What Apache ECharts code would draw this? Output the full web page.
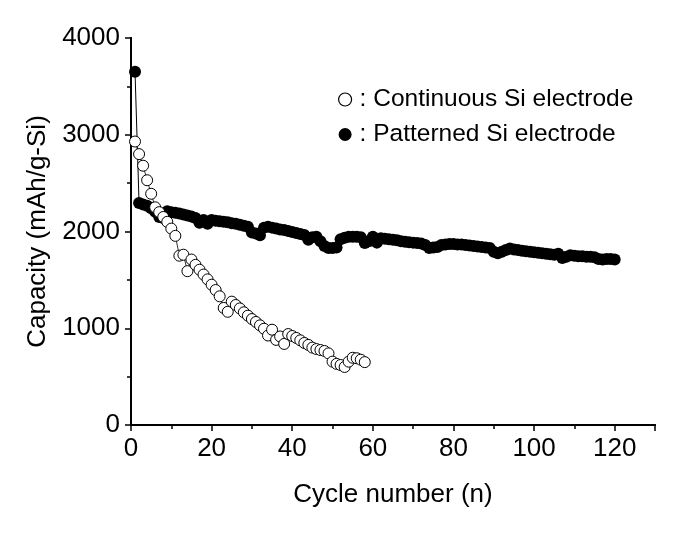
<!DOCTYPE html>
<html>
<head>
<meta charset="utf-8">
<script src="https://cdn.jsdelivr.net/npm/echarts@6/dist/echarts.min.js"></script>
<style>html,body{margin:0;padding:0;background:#fff}#c{width:685px;height:533px}</style>
</head>
<body>
<div id="c"></div>
<script>
// Continuous Si electrode (open circles), cycles 1..58
const continuousCycles = [1,2,3,4,5,6,7,8,9,10,11,12,13,14,15,16,17,18,19,20,21,22,23,24,25,26,27,28,29,30,31,32,33,34,35,36,37,38,39,40,41,42,43,44,45,46,47,48,49,50,51,52,53,54,55,56,57,58];
const continuousCap = [2930,2800,2680,2530,2390,2250,2200,2150,2100,2030,1955,1750,1760,1590,1710,1655,1605,1555,1505,1450,1395,1330,1210,1170,1275,1240,1205,1165,1130,1095,1065,1030,995,925,985,880,915,838,940,920,900,875,848,828,800,785,775,765,740,655,632,620,600,655,695,690,675,650];
// Patterned Si electrode (filled circles), cycles 1..120
const patternedCycles = Array.from({length:120},(_,i)=>i+1);
const patternedCap = [3650,2295,2280,2265,2240,2205,2150,2140,2210,2200,
2195,2185,2175,2165,2155,2140,2090,2120,2080,2120,
2110,2105,2100,2095,2085,2080,2070,2060,2050,1990,
1980,1960,2040,2050,2040,2030,2020,2015,2005,1995,
1985,1975,1965,1915,1940,1945,1900,1850,1830,1830,
1835,1920,1935,1945,1945,1945,1940,1880,1900,1945,
1885,1930,1925,1920,1915,1910,1900,1895,1890,1885,
1880,1875,1860,1830,1835,1840,1860,1865,1870,1870,
1865,1865,1860,1855,1850,1845,1840,1835,1830,1790,
1775,1790,1810,1825,1815,1810,1800,1795,1790,1785,
1780,1775,1770,1765,1760,1770,1725,1740,1755,1750,
1745,1745,1740,1740,1735,1715,1710,1715,1715,1710];
const seriesNames = [': Continuous Si electrode', ': Patterned Si electrode'];
const xTitle = 'Cycle number (n)';
const yTitle = 'Capacity (mAh/g-Si)';

const font = 'Liberation Sans, Arial, sans-serif';
const chart = echarts.init(document.getElementById('c'), null, {renderer:'canvas'});
const axisLine = {show:true, lineStyle:{color:'#000', width:2}};
chart.setOption({
  animation:false,
  backgroundColor:'#fff',
  grid:{left:131, right:30, top:38, bottom:108, containLabel:false},
  legend:{
    orient:'vertical', left:333, top:82, itemGap:10, itemWidth:13, itemHeight:13,
    textStyle:{fontFamily:font, fontSize:24.5, color:'#000', padding:[0,0,0,3]},
    data:[
      {name:seriesNames[0], icon:'circle', itemStyle:{color:'#fff', borderColor:'#000', borderWidth:1.2}},
      {name:seriesNames[1], icon:'circle', itemStyle:{color:'#000', borderColor:'#000', borderWidth:0}}
    ]
  },
  xAxis:[{
    type:'value', min:0, max:130, interval:20,
    name:xTitle, nameLocation:'middle', nameGap:57,
    nameTextStyle:{fontFamily:font, fontSize:26, color:'#000'},
    axisLine:axisLine,
    axisTick:{show:true, inside:false, length:6, lineStyle:{color:'#000', width:1.5}},
    minorTick:{show:true, splitNumber:2, length:4, lineStyle:{color:'#000', width:1.5}},
    axisLabel:{fontFamily:font, fontSize:26, color:'#000', margin:11, showMaxLabel:false,
      formatter:v=> (v%20===0 && v<=120) ? String(v) : ''},
    splitLine:{show:false}
  },{
    type:'value', min:0, max:130, position:'top',
    axisLine:axisLine, axisTick:{show:false}, axisLabel:{show:false}, splitLine:{show:false}
  }],
  yAxis:[{
    type:'value', min:0, max:4000, interval:1000,
    name:yTitle, nameLocation:'middle', nameGap:75,
    nameTextStyle:{fontFamily:font, fontSize:26, color:'#000'},
    axisLine:axisLine,
    axisTick:{show:true, inside:false, length:6, lineStyle:{color:'#000', width:1.5}},
    minorTick:{show:true, splitNumber:2, length:4, lineStyle:{color:'#000', width:1.5}},
    axisLabel:{fontFamily:font, fontSize:26, color:'#000', margin:11, formatter:v=>String(v)},
    splitLine:{show:false}
  },{
    type:'value', min:0, max:4000, position:'right',
    axisLine:axisLine, axisTick:{show:false}, axisLabel:{show:false}, splitLine:{show:false}
  }],
  series:[
    {
      name:seriesNames[1], type:'line', z:2,
      data:patternedCycles.map((c,i)=>[c,patternedCap[i]]),
      symbol:'circle', symbolSize:12, showSymbol:true,
      itemStyle:{color:'#000', borderColor:'#000', borderWidth:0},
      lineStyle:{color:'#000', width:1}
    },
    {
      name:seriesNames[0], type:'line', z:3,
      data:continuousCycles.map((c,i)=>[c,continuousCap[i]]),
      symbol:'circle', symbolSize:11, showSymbol:true,
      itemStyle:{color:'#fff', borderColor:'#000', borderWidth:1},
      lineStyle:{color:'#333', width:1}
    }
  ]
});
</script>
</body>
</html>
